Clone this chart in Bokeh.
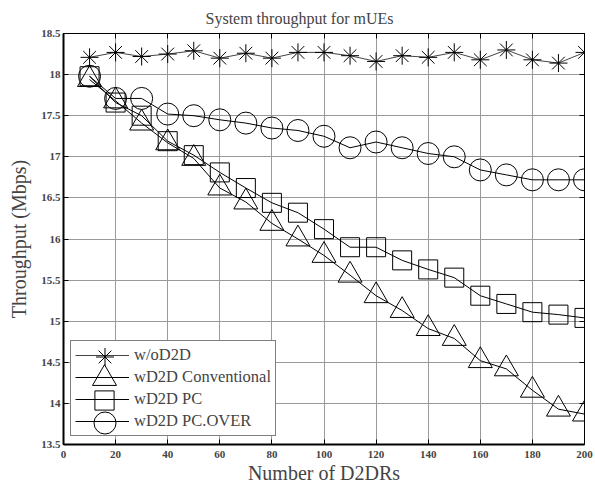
from bokeh.plotting import figure
from bokeh.models import (Range1d, LinearAxis, FixedTicker, Legend, LegendItem,
                          ColumnDataSource, CustomJSTickFormatter)
from bokeh.embed import file_html
from bokeh.resources import INLINE

x_vals = [10, 20, 30, 40, 50, 60, 70, 80, 90, 100, 110, 120, 130, 140, 150, 160, 170, 180, 190, 200]
wo_d2d = [18.21, 18.27, 18.22, 18.25, 18.29, 18.20, 18.26, 18.20, 18.27, 18.27,
          18.23, 18.16, 18.23, 18.21, 18.27, 18.18, 18.30, 18.18, 18.14, 18.27]
conventional = [17.94, 17.68, 17.41, 17.17, 16.98, 16.62, 16.45, 16.19, 16.00, 15.80,
                15.56, 15.31, 15.13, 14.91, 14.79, 14.52, 14.42, 14.16, 13.93, 13.87]
pc = [17.98, 17.66, 17.50, 17.19, 17.02, 16.81, 16.62, 16.44, 16.32, 16.12,
      15.90, 15.90, 15.74, 15.63, 15.53, 15.31, 15.21, 15.11, 15.08, 15.04]
pc_over = [17.98, 17.71, 17.71, 17.52, 17.50, 17.45, 17.41, 17.35, 17.32, 17.25,
           17.11, 17.18, 17.11, 17.04, 17.00, 16.84, 16.78, 16.72, 16.72, 16.72]

series_names = ["w/oD2D", "wD2D Conventional", "wD2D PC", "wD2D PC.OVER"]
x_ticks = [0, 20, 40, 60, 80, 100, 120, 140, 160, 180, 200]
y_ticks = [13.5, 14, 14.5, 15, 15.5, 16, 16.5, 17, 17.5, 18, 18.5]

SERIF = "Liberation Serif"

p = figure(width=595, height=488, output_backend="svg", toolbar_location=None,
           x_range=Range1d(0, 200), y_range=Range1d(13.5, 18.5),
           min_border_left=63, min_border_right=11, min_border_top=33, min_border_bottom=44)
p.title.text = "System throughput for mUEs"
p.title.align = "left"
p.title.offset = 142
p.title.text_font = SERIF
p.title.text_font_size = "16px"
p.title.text_font_style = "normal"
p.title.standoff = 14

p.outline_line_color = "black"
p.outline_line_width = 1

for ax in [p.xaxis[0], p.yaxis[0]]:
    ax.major_label_text_font = SERIF
    ax.major_label_text_font_style = "bold"
    ax.major_label_text_font_size = "11px"
    ax.axis_label_text_font = SERIF
    ax.axis_label_text_font_size = "20px"
    ax.axis_label_text_font_style = "normal"
    ax.major_tick_in = 5
    ax.major_tick_out = 0
    ax.minor_tick_in = 0
    ax.minor_tick_out = 0
    ax.axis_line_width = 2
    ax.major_tick_line_width = 1

p.xaxis[0].ticker = FixedTicker(ticks=x_ticks)
p.yaxis[0].ticker = FixedTicker(ticks=y_ticks)
p.xaxis[0].axis_label = "Number of D2DRs"
p.yaxis[0].axis_label = "Throughput (Mbps)"
p.xaxis[0].major_label_standoff = 6
p.yaxis[0].major_label_standoff = 3
p.xaxis[0].axis_label_standoff = 1
p.yaxis[0].axis_label_standoff = 8

for loc, ticks in [("above", x_ticks), ("right", y_ticks)]:
    ax = LinearAxis(ticker=FixedTicker(ticks=ticks),
                    formatter=CustomJSTickFormatter(code="return ''"))
    ax.major_label_text_font_size = "1px"
    ax.major_tick_in = 5
    ax.major_tick_out = 0
    ax.minor_tick_in = 0
    ax.minor_tick_out = 0
    ax.axis_line_width = 1
    ax.major_label_standoff = 0
    p.add_layout(ax, loc)

p.xgrid.ticker = FixedTicker(ticks=x_ticks)
p.ygrid.ticker = FixedTicker(ticks=y_ticks)
p.xgrid.grid_line_color = "#9a9a9a"
p.ygrid.grid_line_color = "#9a9a9a"
p.xgrid.grid_line_width = 1
p.ygrid.grid_line_width = 1

series_values = [wo_d2d, conventional, pc, pc_over]
markers = ["asterisk", "triangle", "square", "circle"]
sizes = [18, 24, 19, 22]
line_colors = ["#444444", "black", "black", "black"]

line_items = []
marker_renderers = []
for name, ys, marker, size, lc in zip(series_names, series_values, markers, sizes, line_colors):
    src = ColumnDataSource(dict(x=x_vals, y=ys))
    l = p.line("x", "y", source=src, line_color=lc, line_width=1)
    s = p.scatter("x", "y", source=src, marker=marker, size=size,
                  fill_color=None, line_color="black", line_width=1)
    line_items.append(LegendItem(label=name, renderers=[l]))
    marker_renderers.append(s)

# main legend box: labels and line samples
legend = Legend(items=line_items, location=(7, 8), margin=0,
                glyph_width=54, glyph_height=20, label_height=20,
                spacing=2, padding=4,
                label_text_font=SERIF, label_text_font_size="16.5px",
                label_standoff=5,
                border_line_color="black", border_line_width=1,
                background_fill_color="white", background_fill_alpha=1)
p.add_layout(legend, "center")

# large legend markers, overlaid on the main legend rows
row_centers = [356, 378, 400, 422]   # screen y of each legend row
glyph_boxes = [45, 60, 48, 55]        # legend marker size = 0.4 * box
for r, yc, box in zip(marker_renderers, row_centers, glyph_boxes):
    lg = Legend(items=[LegendItem(label=" ", renderers=[r])],
                location=(41 - box / 2, (444 - yc) - box / 2), margin=0,
                glyph_width=box, glyph_height=box, padding=0,
                label_text_font_size="1px", label_standoff=0,
                border_line_color=None, background_fill_alpha=0)
    p.add_layout(lg, "center")

open("out.html", "w").write(file_html(p, INLINE))
